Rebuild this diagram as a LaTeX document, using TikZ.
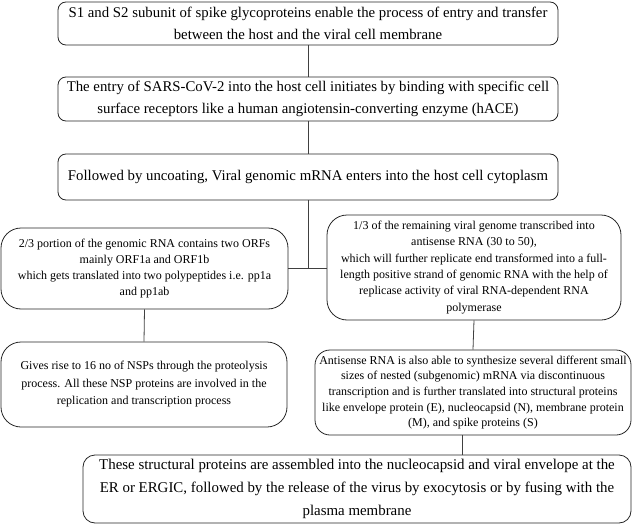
\documentclass[tikz,border=0pt]{standalone}
\usepackage{fontspec}
\setmainfont{Liberation Serif}
\begin{document}
\begin{tikzpicture}[x=1pt,y=-1pt,
  flowbox/.style={draw=black!85, line width=0.8pt, align=center, inner sep=0pt, anchor=center},
  bigtxt/.style={font={\fontsize{14.8}{22}\selectfont}},
  smalltxt/.style={font={\fontsize{12}{16.3}\selectfont}},
  link/.style={draw=black!75, line width=0.8pt}]
\useasboundingbox (0,0) rectangle (633,525);
\node[flowbox, bigtxt, rounded corners=8pt, minimum width=500pt, minimum height=43pt] (b1) at (308,23.5)
  {S1 and S2 subunit of spike glycoproteins enable the process of entry and transfer\\between the host and the viral cell membrane};
\node[flowbox, bigtxt, rounded corners=8pt, minimum width=500pt, minimum height=44pt] (b2) at (308,99)
  {The entry of SARS-CoV-2 into the host cell initiates by binding with specific cell\\surface receptors like a human angiotensin-converting enzyme (hACE)};
\node[flowbox, bigtxt, rounded corners=8pt, minimum width=500pt, minimum height=46pt] (b3) at (308,177)
  {Followed by uncoating, Viral genomic mRNA enters into the host cell cytoplasm};
\node[flowbox, smalltxt, rounded corners=20pt, minimum width=287pt, minimum height=81pt] (b4) at (144.5,268.5)
  {2/3 portion of the genomic RNA contains two ORFs\\mainly ORF1a and ORF1b\\which gets translated into two polypeptides i.e. pp1a\\and pp1ab};
\node[flowbox, smalltxt, rounded corners=20pt, minimum width=294pt, minimum height=105pt] (b5) at (474,267.5)
  {1/3 of the remaining viral genome transcribed into\\antisense RNA (30 to 50),\\which will further replicate end transformed into a full-\\length positive strand of genomic RNA with the help of\\replicase activity of viral RNA-dependent RNA\\polymerase};
\node[flowbox, font={\fontsize{12}{17.5}\selectfont}, rounded corners=20pt, minimum width=286pt, minimum height=85pt] (b6) at (144,384.5)
  {Gives rise to 16 no of NSPs through the proteolysis\\process. All these NSP proteins are involved in the\\replication and transcription process};
\node[flowbox, font={\fontsize{12}{15.7}\selectfont}, rounded corners=15pt, minimum width=316pt, minimum height=85pt] (b7) at (473,392.5)
  {Antisense RNA is also able to synthesize several different small\\sizes of nested (subgenomic) mRNA via discontinuous\\transcription and is further translated into structural proteins\\like envelope protein (E), nucleocapsid (N), membrane protein\\(M), and spike proteins (S)};
\node[flowbox, font={\fontsize{14.9}{23}\selectfont}, rounded corners=12pt, minimum width=548pt, minimum height=68pt] (b8) at (357,489)
  {These structural proteins are assembled into the nucleocapsid and viral envelope at the\\ER or ERGIC, followed by the release of the virus by exocytosis or by fusing with the\\plasma membrane};
\draw[link] (b1.south) -- (b2.north);
\draw[link] (b2.south) -- (b3.north);
\coordinate (j) at (b3.south |- b4.east);
\draw[link] (b3.south) -- (j);
\draw[link] (b4.east) -- (b4.east -| b5.west);
\draw[link] (b4.south) -- (b6.north);
\draw[link] (b5.south) -- (b7.north);
\draw[link] ([xshift=-11pt]b7.south) -- ([xshift=-11pt]b7.south |- b8.north);
\end{tikzpicture}
\end{document}
